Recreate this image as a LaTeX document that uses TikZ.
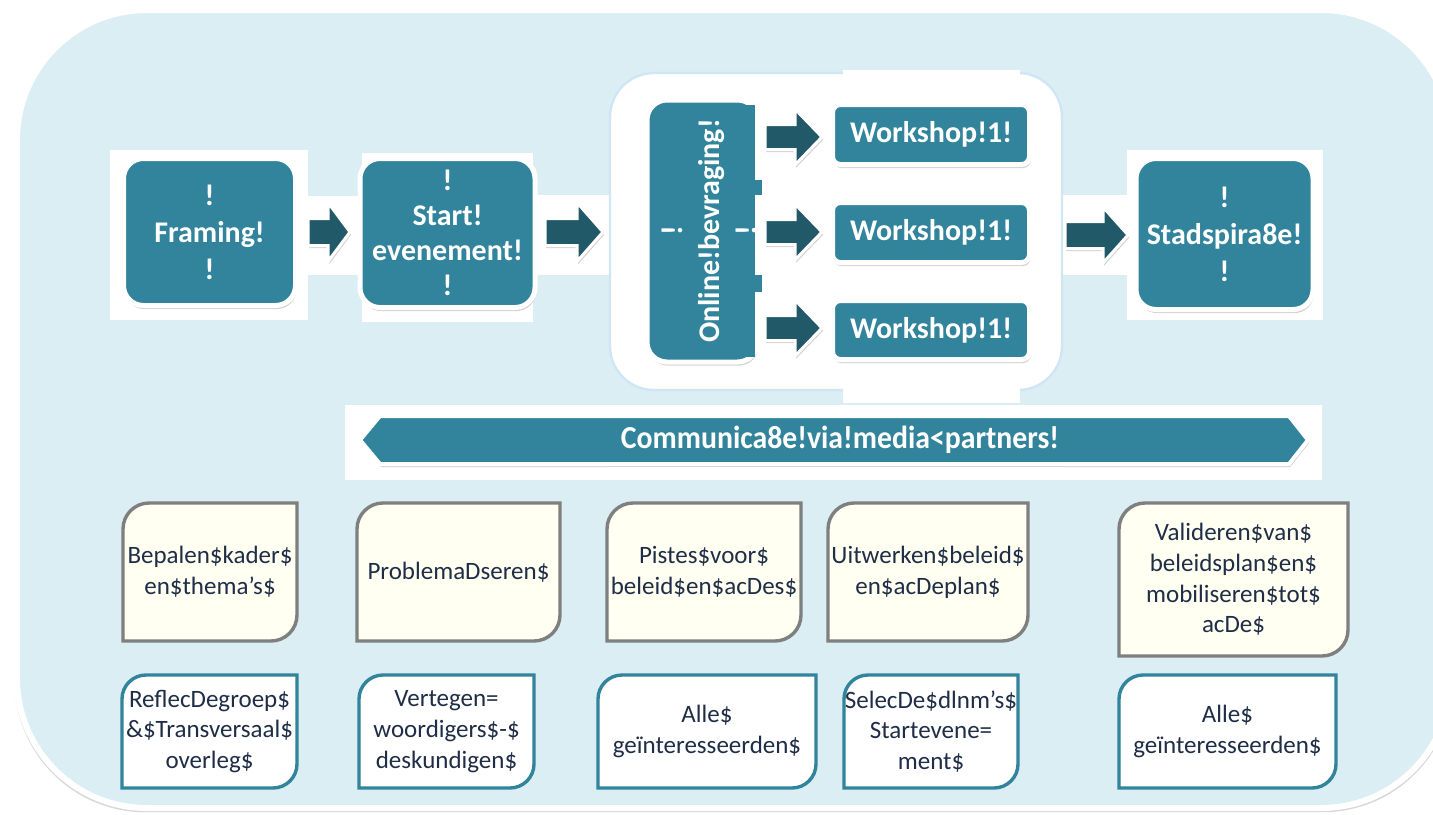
\documentclass[tikz,border=0pt]{standalone}
\usepackage{fontspec}
\setmainfont{Carlito}
\usepackage{graphicx}
\usetikzlibrary{calc,shadows}
\pgfdeclarelayer{back}
\pgfdeclarelayer{mid}
\pgfsetlayers{back,mid,main}
\definecolor{bgblue}{HTML}{DBEEF4}
\definecolor{tealc}{HTML}{31849B}
\definecolor{darkteal}{HTML}{215968}
\definecolor{creamc}{HTML}{FFFFF2}
\definecolor{grayb}{HTML}{7F7F7F}
\definecolor{navyt}{HTML}{1F2D47}
\definecolor{frameline}{HTML}{D0E6F5}
\newcommand\bigfnt{\fontsize{15pt}{18.5pt}\selectfont\bfseries}
\newcommand\smfnt{\fontsize{12.5pt}{15.4pt}\selectfont}
\newcommand\blockarrow[6]{%
  \path[arrowshape] (#1,{#4-#5}) -- (#2,{#4-#5}) -- (#2,{#4-#6}) -- (#3,#4) -- (#2,{#4+#6}) -- (#2,{#4+#5}) -- (#1,{#4+#5}) -- cycle;}
\newcommand\diagshape[3]{%
  \path[#1] ($(#2.north west)+(0,#3)$) .. controls ($(#2.north west)+(0,{0.448*#3})$) and ($(#2.north west)+({0.448*#3},0)$) .. ($(#2.north west)+(#3,0)$)
    -- (#2.north east) -- ($(#2.south east)+(0,-#3)$)
    .. controls ($(#2.south east)+(0,{-0.448*#3})$) and ($(#2.south east)+({-0.448*#3},0)$) .. ($(#2.south east)+(-#3,0)$)
    -- (#2.south west) -- cycle;}
\tikzset{
  tealbox/.style={fill=tealc, draw=white, line width=2.5pt, rounded corners=10pt, text=white, font=\bigfnt, align=center, inner sep=0pt, outer sep=0pt,
    drop shadow={opacity=0.35, shadow xshift=0.6pt, shadow yshift=-1.8pt}},
  wsbox/.style={tealbox, rounded corners=4pt},
  arrowshape/.style={fill=darkteal, draw=white, line width=1.5pt, line join=miter,
    drop shadow={opacity=0.35, shadow xshift=0.6pt, shadow yshift=-1.3pt}},
  bannershape/.style={fill=tealc, draw=white, line width=2pt, line join=miter,
    drop shadow={opacity=0.35, shadow xshift=0.6pt, shadow yshift=-1.5pt}},
  creambox/.style={fill=creamc, draw=grayb, line width=1.7pt},
  whitebox/.style={fill=white, draw=tealc, line width=1.7pt},
  txtbox/.style={inner sep=0pt, outer sep=0pt, align=center, font=\smfnt, text=navyt},
  backing/.style={fill=white, draw=none}
}
\begin{document}
\begin{tikzpicture}[x=0.5pt, y=-0.5pt]
\useasboundingbox (0,0) rectangle (1433,814);
\begin{pgfonlayer}{back}
  \clip (0,0) rectangle (1433,814);
  \fill[white] (0,0) rectangle (1433,814);
  \path[fill=bgblue, draw=white, line width=3pt, rounded corners=65pt,
    drop shadow={opacity=0.3, shadow xshift=0pt, shadow yshift=-1.5pt, shadow scale=1.003}]
    (17,10) rectangle (1451,808);
  % white backings
  \path[backing] (110,150) rectangle (308,320);
  \path[backing] (308,196) rectangle (360,275);
  \path[backing] (362,153) rectangle (533,322);
  \path[backing] (533,195) rectangle (610,275);
  \path[backing] (1062,195) rectangle (1127,275);
  \path[backing] (1127,150) rectangle (1323,320);
  \path[fill=white, draw=frameline, line width=1.2pt, rounded corners=22pt] (610,73) rectangle (1062,390);
  \path[backing] (843,70) rectangle (1020,403);
  \path[backing] (345,405) rectangle (1322,480);
\end{pgfonlayer}

% main process boxes
\node[tealbox, minimum width=86pt, minimum height=73.5pt, text width=86pt] (framing) at (209.5,232) {!\\Framing!\\!};
\node[tealbox, minimum width=87.5pt, minimum height=74.5pt, text width=87.5pt, font=\fontsize{15pt}{17.5pt}\selectfont\bfseries] (start) at (447.5,233) {!\\Start!\\evenement!\\!};
\node[tealbox, minimum width=88.5pt, minimum height=75.5pt, text width=88.5pt] (stad) at (1224.5,234) {!\\Stadspira8e!\\!};

\node[tealbox, minimum width=55.25pt, minimum height=131pt] (online) at (702.25,231) {};
\fill[tealc] (720,105) rectangle (755,357);
\fill[tealc] (755,180) rectangle (762,195);
\fill[tealc] (755,275) rectangle (762,292);
\node[rotate=90, text=white, font=\bigfnt, align=center, inner sep=0pt] (onlinetxt) at (709,231) {!\\Online!bevraging!\\!};

\node[wsbox, minimum width=98.5pt, minimum height=30pt, text width=98.5pt] (ws1) at (931,134.5) {Workshop!1!};
\node[wsbox, minimum width=98.5pt, minimum height=30pt, text width=98.5pt] (ws2) at (931,232.5) {Workshop!1!};
\node[wsbox, minimum width=98.5pt, minimum height=29.5pt, text width=98.5pt] (ws3) at (931,330) {Workshop!1!};

% block arrows
\blockarrow{308}{328}{350}{232}{13.5}{29.5}
\blockarrow{545}{577}{603}{232}{13.5}{29.5}
\blockarrow{765}{795}{822}{137}{12.5}{28}
\blockarrow{765}{795}{822}{232}{12.5}{28}
\blockarrow{765}{795}{822}{328}{12.5}{28}
\blockarrow{1065}{1103}{1128}{235}{13.5}{28}

% banner
\path[bannershape] (360,440) -- (380,416) -- (1289,416) -- (1308,440) -- (1289,464) -- (380,464) -- cycle;
\fill[white] (609,467) rectangle (1065,478);
\node[text=white, font=\fontsize{16pt}{19pt}\selectfont\bfseries, inner sep=0pt] (comm) at (840,440) {\scalebox{0.93}[1]{Communica8e!via!media<partners!}};

% bottom boxes, row 1
\node[txtbox, minimum width=87pt, minimum height=69pt, text width=87pt] (a) at (210,572) {Bepalen\$kader\$\\en\$thema’s\$};
\node[txtbox, minimum width=101.5pt, minimum height=69pt, text width=101.5pt] (b) at (458.5,572) {ProblemaDseren\$};
\node[txtbox, minimum width=97pt, minimum height=69pt, text width=97pt] (c) at (704,572) {Pistes\$voor\$\\beleid\$en\$acDes\$};
\node[txtbox, minimum width=100pt, minimum height=69pt, text width=100pt] (d) at (928,572) {Uitwerken\$beleid\$\\en\$acDeplan\$};
\node[txtbox, minimum width=114.5pt, minimum height=76.5pt, text width=114.5pt] (e) at (1233.5,579.5) {Valideren\$van\$\\beleidsplan\$en\$\\mobiliseren\$tot\$\\acDe\$};

% bottom boxes, row 2
\node[txtbox, minimum width=87.5pt, minimum height=56.5pt, text width=87.5pt] (f) at (209.5,731.5) {ReflecDegroep\$\\\&\$Transversaal\$\\overleg\$};
\node[txtbox, minimum width=87.5pt, minimum height=56.5pt, text width=87.5pt] (g) at (446.5,731.5) {Vertegen=\\woordigers\$-\$\\deskundigen\$};
\node[txtbox, minimum width=109pt, minimum height=56.5pt, text width=109pt] (h) at (707,731.5) {Alle\$\\geïnteresseerden\$};
\node[txtbox, minimum width=87pt, minimum height=56.5pt, text width=87pt] (i) at (931,731.5) {SelecDe\$dlnm’s\$\\Startevene=\\ment\$};
\node[txtbox, minimum width=108.5pt, minimum height=56.5pt, text width=108.5pt] (j) at (1227.5,731.5) {Alle\$\\geïnteresseerden\$};

\begin{pgfonlayer}{mid}
  \diagshape{creambox}{a}{26}
  \diagshape{creambox}{b}{26}
  \diagshape{creambox}{c}{26}
  \diagshape{creambox}{d}{26}
  \diagshape{creambox}{e}{26}
  \diagshape{whitebox}{f}{24}
  \diagshape{whitebox}{g}{24}
  \diagshape{whitebox}{h}{24}
  \diagshape{whitebox}{i}{24}
  \diagshape{whitebox}{j}{24}
\end{pgfonlayer}
\end{tikzpicture}
\end{document}
